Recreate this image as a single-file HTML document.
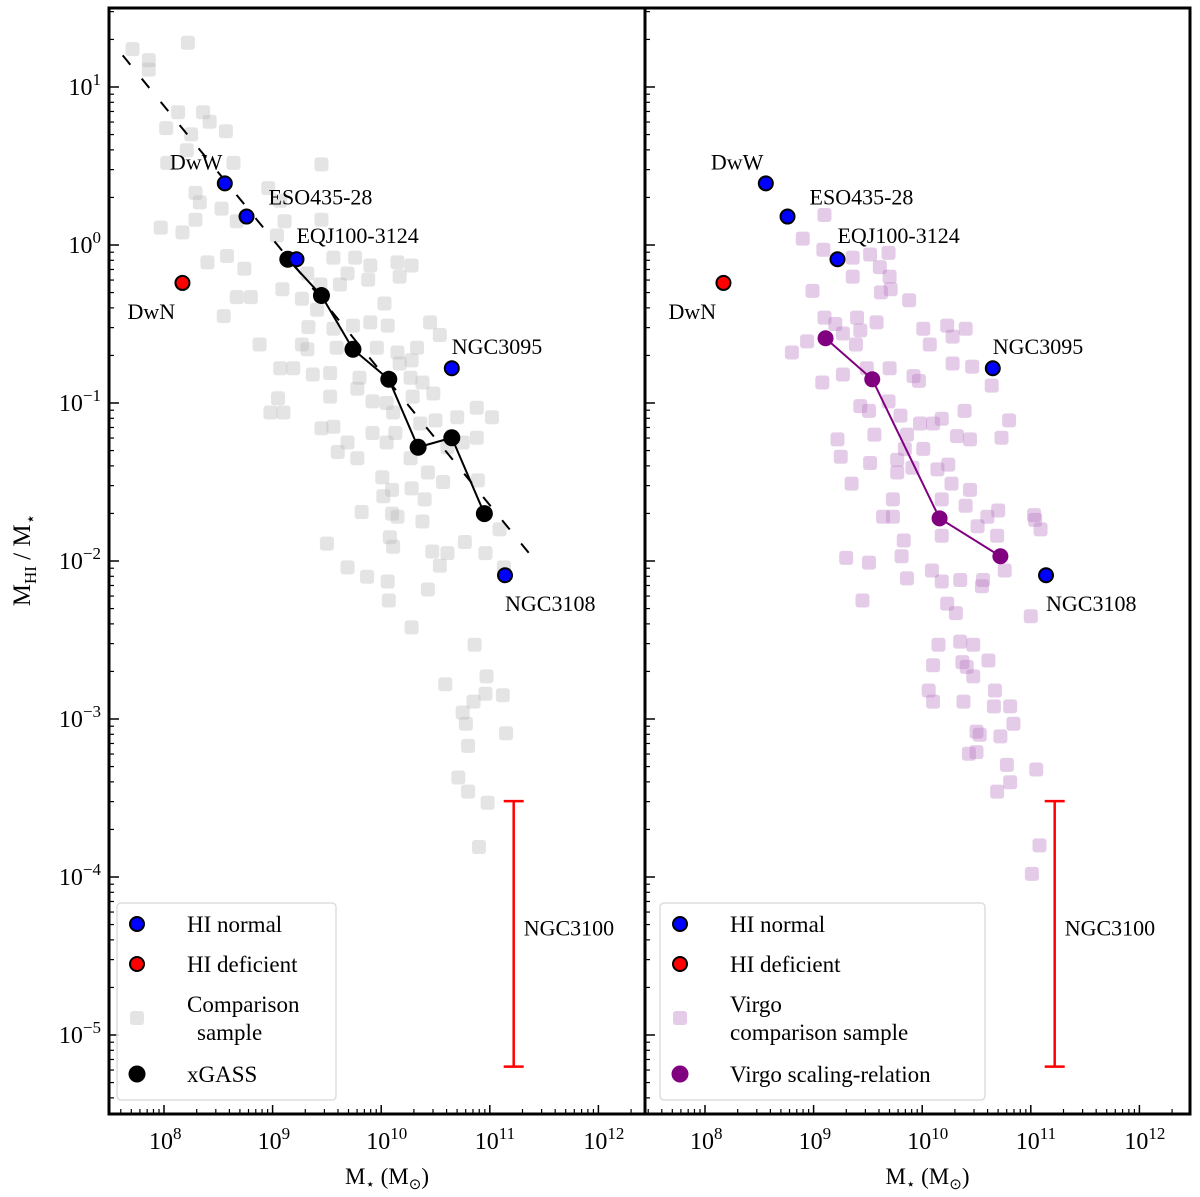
<!DOCTYPE html>
<html><head><meta charset="utf-8"><style>
body{margin:0;background:#fff}
svg{display:block;font-family:"Liberation Serif",serif}
</style></head><body>
<svg id="c" width="1200" height="1197" xmlns="http://www.w3.org/2000/svg"></svg>
<script>
// log10 values
const grayLogM=[7.71,8.22,7.86,7.86,8.13,8.36,8.42,8.02,8.57,8.25,8.21,8.03,8.64,9.45,8.29,8.33,8.96,9.07,8.53,8.29,7.97,8.17,8.67,9.11,9.45,9.04,8.40,8.58,8.74,8.67,8.80,8.55,9.09,9.27,9.32,9.56,9.76,9.90,10.15,10.28,10.17,9.44,9.62,9.69,9.88,9.33,9.56,9.74,9.90,10.06,10.45,10.54,10.03,9.41,8.88,9.27,9.32,9.59,9.96,10.15,10.33,10.28,10.17,9.07,9.19,9.37,9.53,9.80,10.27,10.38,10.48,10.29,9.53,9.78,9.92,10.05,10.11,9.05,8.98,9.10,9.45,9.56,9.92,10.88,11.02,10.50,10.70,10.36,10.88,10.13,10.05,9.69,9.60,9.78,10.27,10.43,10.57,10.75,10.61,10.01,10.10,10.02,10.28,10.40,9.82,10.10,10.15,10.38,10.89,9.50,10.08,10.11,10.77,10.96,11.09,10.47,10.61,10.54,9.69,9.87,10.06,10.43,10.07,11.13,10.28,10.86,10.97,10.59,10.96,11.12,10.85,10.75,10.78,11.15,10.80,10.71,10.80,10.98,10.90];
const grayLogR=[1.24,1.28,1.17,1.11,0.84,0.84,0.78,0.74,0.72,0.70,0.60,0.52,0.52,0.51,0.33,0.27,0.36,0.28,0.23,0.16,0.11,0.08,0.15,0.15,0.16,0.06,-0.11,-0.07,-0.15,-0.33,-0.33,-0.45,-0.28,-0.34,-0.18,-0.08,-0.08,-0.13,-0.11,-0.13,-0.20,-0.25,-0.25,-0.18,-0.22,-0.52,-0.53,-0.51,-0.49,-0.51,-0.49,-0.57,-0.37,-0.41,-0.63,-0.63,-0.66,-0.65,-0.65,-0.68,-0.65,-0.73,-0.75,-0.78,-0.78,-0.82,-0.81,-0.84,-0.84,-0.87,-0.94,-0.96,-0.96,-0.91,-0.99,-1.00,-1.06,-0.97,-1.06,-1.06,-1.16,-1.15,-1.19,-1.03,-1.09,-1.11,-1.09,-1.13,-1.22,-1.19,-1.25,-1.25,-1.31,-1.35,-1.35,-1.44,-1.50,-1.25,-1.28,-1.47,-1.55,-1.59,-1.54,-1.61,-1.69,-1.70,-1.72,-1.75,-1.49,-1.89,-1.85,-1.91,-1.88,-1.95,-1.80,-1.94,-1.95,-2.03,-2.04,-2.10,-2.13,-2.18,-2.25,-2.04,-2.42,-2.53,-2.73,-2.78,-2.84,-2.85,-2.89,-2.96,-3.03,-3.09,-3.17,-3.37,-3.46,-3.53,-3.81];
const virgoLogM=[9.10,8.90,9.09,9.36,9.52,9.69,9.61,9.70,9.36,9.71,9.62,8.99,9.88,9.10,9.20,9.40,9.43,9.58,9.27,8.94,9.39,10.01,10.23,10.40,10.28,10.07,10.28,10.46,10.64,9.08,9.27,9.49,9.70,9.92,9.97,9.69,9.43,9.51,9.80,9.98,10.10,10.18,10.39,10.80,10.73,10.32,10.44,9.86,9.56,9.22,9.25,9.52,9.77,9.84,10.01,9.77,9.91,10.14,10.24,10.27,10.44,9.35,9.73,10.18,10.40,9.64,9.73,10.18,10.51,10.60,10.70,10.69,11.03,11.09,9.83,9.81,9.30,9.51,10.09,10.18,10.35,10.56,9.86,8.80,9.45,11.04,10.76,10.55,10.23,10.31,11.00,10.15,10.35,10.47,10.10,10.37,10.41,10.47,10.61,10.06,10.10,10.38,10.67,10.66,10.81,10.84,10.50,10.53,10.72,10.43,10.50,10.78,10.81,10.69,11.05,11.08,11.01];
const virgoLogR=[0.19,0.04,-0.03,-0.08,-0.06,-0.05,-0.14,-0.20,-0.20,-0.28,-0.30,-0.29,-0.35,-0.46,-0.50,-0.46,-0.54,-0.49,-0.56,-0.61,-0.63,-0.53,-0.51,-0.53,-0.58,-0.63,-0.75,-0.77,-0.89,-0.87,-0.82,-0.78,-0.78,-0.83,-0.86,-0.99,-1.02,-1.05,-1.08,-1.13,-1.13,-1.10,-1.05,-1.11,-1.22,-1.21,-1.23,-1.20,-1.20,-1.23,-1.34,-1.38,-1.36,-1.29,-1.29,-1.44,-1.41,-1.42,-1.39,-1.51,-1.55,-1.51,-1.61,-1.61,-1.65,-1.72,-1.72,-1.84,-1.78,-1.72,-1.68,-1.84,-1.71,-1.80,-1.87,-1.97,-1.98,-2.01,-2.06,-2.13,-2.12,-2.12,-2.11,-0.68,-2.25,-1.74,-2.06,-2.16,-2.27,-2.33,-2.35,-2.53,-2.51,-2.53,-2.66,-2.64,-2.67,-2.73,-2.63,-2.82,-2.89,-2.89,-2.82,-2.92,-2.92,-3.03,-3.08,-3.10,-3.11,-3.22,-3.21,-3.29,-3.40,-3.46,-3.32,-3.80,-3.98];
const xgassLogM=[9.14,9.45,9.74,10.07,10.34,10.65,10.95];
const xgassLogR=[-0.09,-0.32,-0.66,-0.85,-1.28,-1.22,-1.70];
const virgoRelLogM=[9.11,9.54,10.16,10.72];
const virgoRelLogR=[-0.59,-0.85,-1.73,-1.97];
const galNames=["DwW","ESO435-28","EQJ100-3124","NGC3095","NGC3108","DwN"];
const galLogM=[8.56,8.76,9.22,10.65,11.14,8.17];
const galLogR=[0.39,0.18,-0.09,-0.78,-2.09,-0.24];
const galType=["normal","normal","normal","normal","normal","deficient"];
const labelDx=[-55,22,0,0,0,-55];
const labelDy=[-14,-12,-16,-14,36,36];
const ngc3100LogM=11.22, ngc3100Lo=-5.2, ngc3100Hi=-3.52;
const fitLogM=[7.62,11.42], fitLogR=[1.2,-2.0];
const xTicks=[8,9,10,11,12];
const yTicks=[1,0,-1,-2,-3,-4,-5];

const S=document.getElementById('c'),NS='http://www.w3.org/2000/svg';
function mk(t,a,p){const e=document.createElementNS(NS,t);for(const k in a)e.setAttribute(k,a[k]);(p||S).appendChild(e);return e;}
const panels=[{x0:109,x1:645,off:164},{x0:645,x1:1190,off:705}];
const yT=8,yB=1114;
function X(p,lm){return p.off+(lm-8)*108.6;}
function Y(lr){return 87+(1-lr)*158;}

panels.forEach((p,pi)=>{
  const g=mk('g',{});
  
  
  const cl=mk('clipPath',{id:'cp'+pi},g);mk('rect',{x:p.x0,y:yT,width:p.x1-p.x0,height:yB-yT},cl);
  const pl=mk('g',{'clip-path':'url(#cp'+pi+')'},g);
  const LM=pi?virgoLogM:grayLogM, LR=pi?virgoLogR:grayLogR;
  for(let i=0;i<LM.length;i++){
    const r=mk('rect',{x:X(p,LM[i])-7,y:Y(LR[i])-7,width:14,height:14,rx:3,fill:pi?'rgb(185,120,195)':'rgb(185,185,185)','fill-opacity':0.38},pl);
    
    
  }
  if(!pi){
    const f=mk('line',{x1:X(p,fitLogM[0]),y1:Y(fitLogR[0]),x2:X(p,fitLogM[1]),y2:Y(fitLogR[1]),stroke:'#000','stroke-width':2,'stroke-dasharray':'12,18'},pl);
    
    
  }
  const RM=pi?virgoRelLogM:xgassLogM, RR=pi?virgoRelLogR:xgassLogR, col=pi?'#800080':'#000';
  const ln=mk('polyline',{points:RM.map((m,i)=>X(p,m)+','+Y(RR[i])).join(' '),fill:'none',stroke:col,'stroke-width':2},pl);
  
  
  RM.forEach((m,i)=>{
    const c=mk('circle',{cx:X(p,m),cy:Y(RR[i]),r:pi?8:8.5,fill:col},pl);
    
    
  });
  galLogM.forEach((m,i)=>{
    const cx=X(p,m),cy=Y(galLogR[i]);
    const c=mk('circle',{cx:cx,cy:cy,r:7,fill:galType[i]=='normal'?'#0000ff':'#ff0000',stroke:'#000','stroke-width':2},pl);
    
    
    const t=mk('text',{x:cx+labelDx[i],y:cy+labelDy[i],'font-size':22},pl);t.textContent=galNames[i];
    
    
  });
  const ex=X(p,ngc3100LogM),ey1=Y(ngc3100Hi),ey2=Y(ngc3100Lo);
  const eb=mk('g',{stroke:'#ff0000','stroke-width':2.5},pl);
  
  
  mk('line',{x1:ex,y1:ey1,x2:ex,y2:ey2},eb);
  mk('line',{x1:ex-10,y1:ey1,x2:ex+10,y2:ey1},eb);
  mk('line',{x1:ex-10,y1:ey2,x2:ex+10,y2:ey2},eb);
  const nt=mk('text',{x:ex+10,y:(Y(-4.37)),'font-size':22},pl);nt.textContent='NGC3100';
  
  
  mk('rect',{x:p.x0,y:yT,width:p.x1-p.x0,height:yB-yT,fill:'none',stroke:'#000','stroke-width':3},g);
  for(let d=7;d<=12;d++){
    const xm=X(p,d);
    if(xm>p.x0&&xm<p.x1){mk('line',{x1:xm,y1:yB,x2:xm,y2:yB-9,stroke:'#000','stroke-width':1.5},g);}
    for(let k=2;k<10;k++){const xx=X(p,d+Math.log10(k));if(xx>p.x0+2&&xx<p.x1-2)mk('line',{x1:xx,y1:yB,x2:xx,y2:yB-5,stroke:'#000','stroke-width':1.2},g);}
  }
  xTicks.forEach(d=>{
    const t=mk('text',{x:X(p,d)-15,y:1149,'font-size':24},g);
    
    
    t.innerHTML='10<tspan dy="-10" font-size="17">'+d+'</tspan>';
  });
  for(let d=-6;d<=1;d++){
    const ym=Y(d);
    if(ym>yT&&ym<yB)mk('line',{x1:p.x0,y1:ym,x2:p.x0+10,y2:ym,stroke:'#000','stroke-width':1.5},g);
    for(let k=2;k<10;k++){const yy=Y(d+Math.log10(k));if(yy>yT+2&&yy<yB-2)mk('line',{x1:p.x0,y1:yy,x2:p.x0+5,y2:yy,stroke:'#000','stroke-width':1.2},g);}
  }
  if(!pi){
    yTicks.forEach(d=>{
      const t=mk('text',{x:101,y:Y(d)+8,'font-size':24,'text-anchor':'end'},g);
      
      
      t.innerHTML='10<tspan dy="-10" font-size="17">'+(d<0?'\u2212'+(-d):d)+'</tspan>';
    });
  }
  const xl=mk('text',{x:(p.x0+p.x1)/2+10,y:1184,'font-size':23,'text-anchor':'middle'},g);
  
  
  xl.innerHTML='M<tspan dy="5" font-size="15">\u22c6</tspan><tspan dy="-5"> (M</tspan><tspan dy="5" font-size="15">\u2299</tspan><tspan dy="-5">)</tspan>';
  const lx=p.x0+(pi?15:8);
  const lg=mk('g',{},g);
  
  
  mk('rect',{x:lx,y:903,width:pi?325:219,height:197,rx:4,fill:'#fff','fill-opacity':0.8,stroke:'#ddd','stroke-width':1.5},lg);
  const mx=lx+20,tx=lx+70;
  mk('circle',{cx:mx,cy:924,r:7,fill:'#00f',stroke:'#000','stroke-width':2},lg);
  mk('circle',{cx:mx,cy:964,r:7,fill:'#f00',stroke:'#000','stroke-width':2},lg);
  mk('rect',{x:mx-7,y:1011,width:14,height:14,rx:3,fill:pi?'rgb(185,120,195)':'rgb(185,185,185)','fill-opacity':0.38},lg);
  mk('circle',{cx:mx,cy:1074,r:8.5,fill:pi?'#800080':'#000'},lg);
  const texts=[['HI normal',932],['HI deficient',972],[pi?'Virgo':'Comparison',1012],[pi?'comparison sample':'sample',1040],[pi?'Virgo scaling-relation':'xGASS',1082]];
  texts.forEach((t,i)=>{const el=mk('text',{x:(i==3&&!pi)?tx+10:tx,y:t[1],'font-size':23},lg);el.textContent=t[0];
    
    
  });
});
const yl=mk('text',{transform:'translate(30,560) rotate(-90)','font-size':25,'text-anchor':'middle'});


yl.innerHTML='M<tspan dy="6" font-size="17">HI</tspan><tspan dy="-6"> / M</tspan><tspan dy="6" font-size="17">\u22c6</tspan>';
</script>
</body></html>
